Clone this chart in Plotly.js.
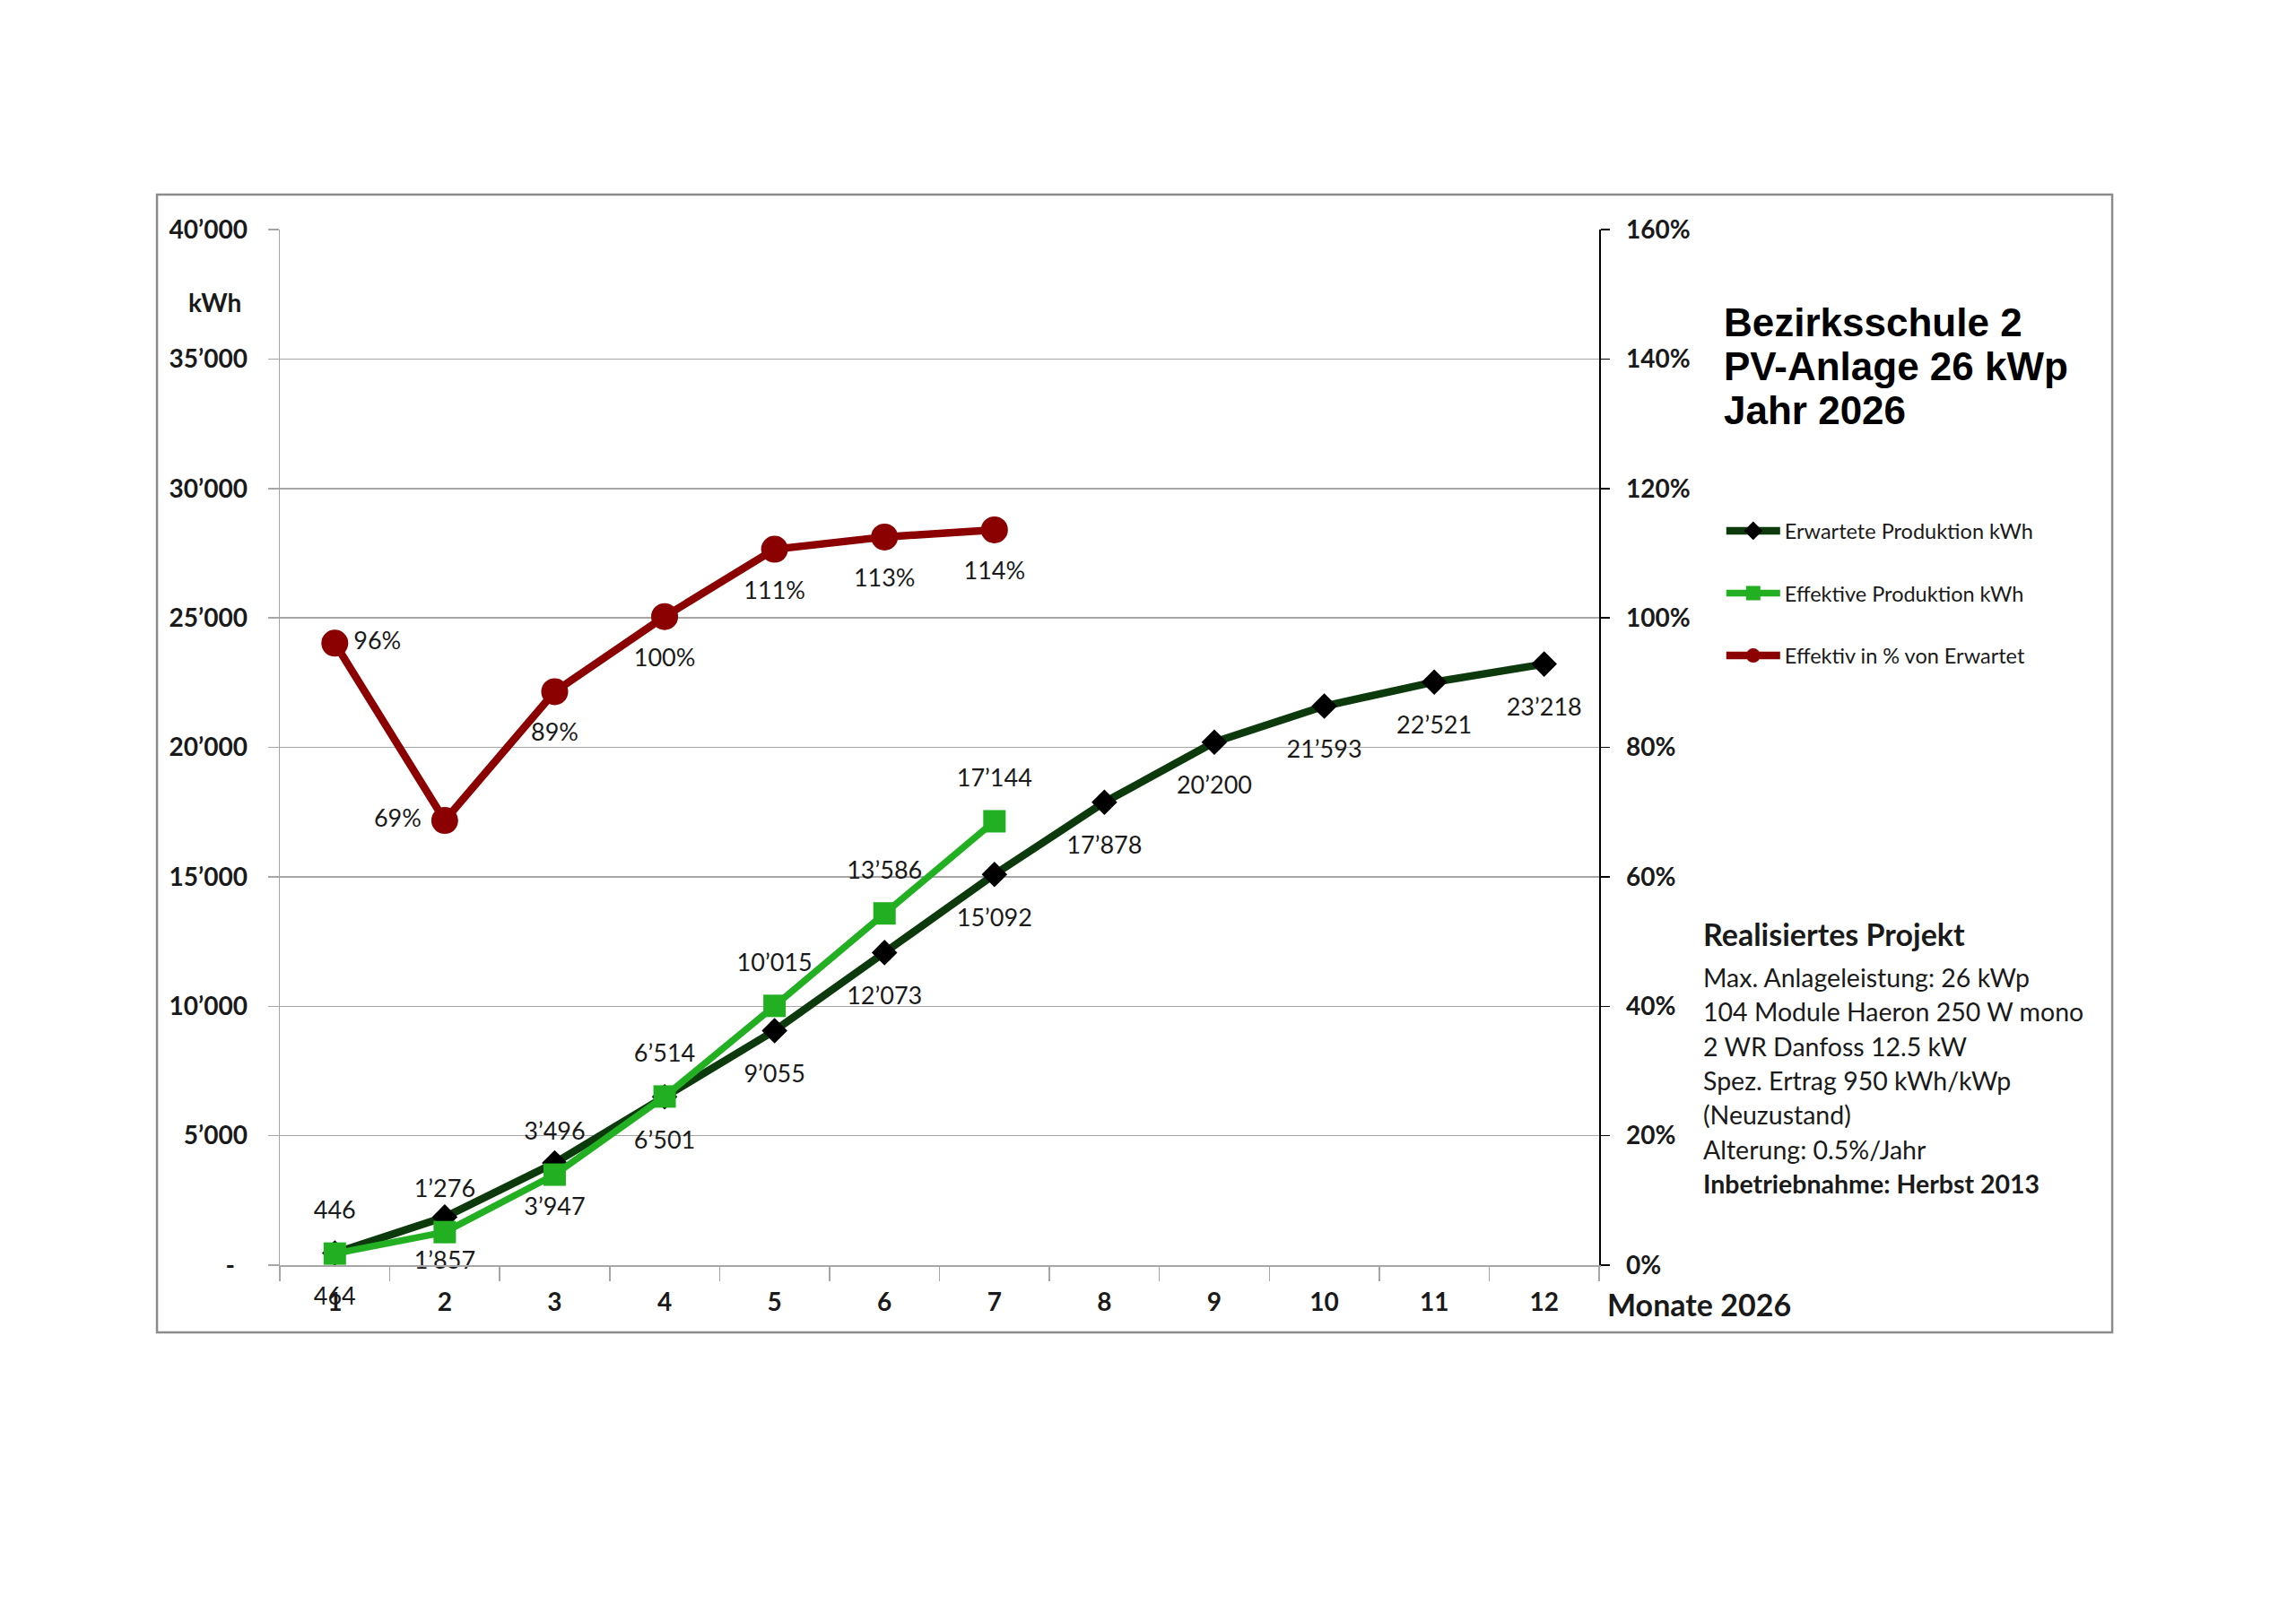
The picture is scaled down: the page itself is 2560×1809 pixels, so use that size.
<!DOCTYPE html>
<html>
<head>
<meta charset="utf-8">
<script src="https://cdn.plot.ly/plotly-3.0.1.min.js"></script>
<style>
  html, body { margin: 0; padding: 0; background: #fff; }
  #chart { width: 2560px; height: 1809px; }
</style>
</head>
<body>
<div id="chart"></div>
<script>
// ---- Data ----
const months        = ['1', '2', '3', '4', '5', '6', '7', '8', '9', '10', '11', '12'];
const expectedKwh   = [464, 1857, 3947, 6501, 9055, 12073, 15092, 17878, 20200, 21593, 22521, 23218];
const effectiveKwh  = [446, 1276, 3496, 6514, 10015, 13586, 17144];
const effectivePct  = [96.1, 68.7, 88.6, 100.2, 110.6, 112.5, 113.6];

const kwhTicks      = [0, 5000, 10000, 15000, 20000, 25000, 30000, 35000, 40000];
const kwhTickLabels = ['-\u2002', '5’000', '10’000', '15’000', '20’000', '25’000', '30’000', '35’000', '40’000'];

const titleLines = ['Bezirksschule 2', 'PV-Anlage 26 kWp', 'Jahr 2026'];
const infoHead   = 'Realisiertes Projekt';
const infoLines  = [
  'Max. Anlageleistung: 26 kWp',
  '104 Module Haeron 250 W mono',
  '2 WR Danfoss 12.5 kW',
  'Spez. Ertrag 950 kWh/kWp',
  '(Neuzustand)',
  'Alterung: 0.5%/Jahr',
  '<b>Inbetriebnahme: Herbst 2013</b>',
];

// ---- Colours / fonts ----
const C = {
  dark:  '#0c3a0c',
  green: '#22b022',
  red:   '#8b0000',
  grid:  '#a6a6a6',
  text:  '#1a1a1a',
};
const FONT  = 'Lato, "Open Sans", sans-serif';
const TFONT = '"Liberation Sans", Arial, sans-serif';

const fmt = (v) => String(Math.round(v)).replace(/\B(?=(\d{3})+(?!\d))/g, '’');

const effMonths = months.slice(0, effectiveKwh.length);

// ---- Traces ----
const traces = [
  {
    name: 'Erwartete Produktion kWh',
    legendgroup: 'a',
    x: months, y: expectedKwh,
    mode: 'lines+markers',
    line: { color: C.dark, width: 8.5 },
    marker: { symbol: 'diamond', size: 22, color: '#000' },
    hoverinfo: 'skip',
  },
  {
    name: 'Effektive Produktion kWh',
    legendgroup: 'b',
    x: effMonths, y: effectiveKwh,
    mode: 'lines+markers',
    line: { color: C.green, width: 7.5 },
    marker: { symbol: 'square', size: 25, color: C.green },
    hoverinfo: 'skip',
  },
  {
    name: 'Effektiv in % von Erwartet',
    legendgroup: 'c',
    x: effMonths, y: effectivePct,
    yaxis: 'y2',
    mode: 'lines+markers',
    line: { color: C.red, width: 8.5 },
    marker: { symbol: 'circle', size: 30, color: C.red },
    hoverinfo: 'skip',
  },
  // data labels (invisible spacer markers push the text off the points)
  {
    x: months, y: expectedKwh,
    mode: 'markers+text',
    text: expectedKwh.map(fmt),
    textposition: 'bottom center',
    textfont: { family: FONT, size: 27, color: C.text },
    marker: { size: 58, opacity: 0 },
    cliponaxis: false,
    showlegend: false, hoverinfo: 'skip',
  },
  {
    x: effMonths, y: effectiveKwh,
    mode: 'markers+text',
    text: effectiveKwh.map(fmt),
    textposition: 'top center',
    textfont: { family: FONT, size: 27, color: C.text },
    marker: { size: 50, opacity: 0 },
    cliponaxis: false,
    showlegend: false, hoverinfo: 'skip',
  },
  {
    x: effMonths, y: effectivePct,
    yaxis: 'y2',
    mode: 'markers+text',
    text: effectivePct.map(v => Math.round(v) + '%'),
    textposition: ['middle right', 'middle left', 'bottom center', 'bottom center', 'bottom center', 'bottom center', 'bottom center'],
    textfont: { family: FONT, size: 27, color: C.text },
    marker: { size: [32, 40, 54, 54, 54, 54, 54], opacity: 0 },
    cliponaxis: false,
    showlegend: false, hoverinfo: 'skip',
  },
];

// ---- Annotations ----
const annotations = [
  {
    text: '<b>kWh</b>', xref: 'paper', yref: 'paper', x: -0.049, y: 0.930,
    xanchor: 'center', yanchor: 'middle',
    showarrow: false, font: { family: FONT, size: 28, color: C.text },
  },
  {
    text: '<b>Monate 2026</b>', xref: 'paper', yref: 'paper', x: 1.0048, y: -0.038,
    xanchor: 'left', yanchor: 'middle', showarrow: false,
    font: { family: FONT, size: 34, color: C.text },
  },
  {
    text: '<b>' + infoHead + '</b>', xref: 'paper', yref: 'paper', x: 1.0775, y: 0.3195,
    xanchor: 'left', yanchor: 'middle', showarrow: false,
    font: { family: FONT, size: 34, color: C.text },
  },
];
titleLines.forEach((t, i) => annotations.push({
  text: '<b>' + t + '</b>', xref: 'paper', yref: 'paper',
  x: 1.0931, y: 0.9108 - i * 0.0428, xanchor: 'left', yanchor: 'middle', showarrow: false,
  font: { family: TFONT, size: 44, color: '#000' },
}));
infoLines.forEach((t, i) => annotations.push({
  text: t, xref: 'paper', yref: 'paper',
  x: 1.0775, y: 0.2779 - i * 0.0332, xanchor: 'left', yanchor: 'middle', showarrow: false,
  font: { family: FONT, size: 28.5, color: C.text },
}));

const layout = {
  width: 2560,
  height: 1809,
  margin: { l: 312, r: 777, t: 256, b: 398 },
  paper_bgcolor: '#fff',
  plot_bgcolor: '#fff',
  showlegend: true,
  legend: {
    x: 1.093, y: 0.728, xanchor: 'left', yanchor: 'top',
    font: { family: FONT, size: 23.5, color: C.text },
    tracegroupgap: 36,
    itemwidth: 60,
    bgcolor: 'rgba(0,0,0,0)',
  },
  xaxis: {
    type: 'category',
    range: [-0.5, 11.5],
    tickson: 'boundaries',
    ticks: 'outside', ticklen: 16, tickcolor: C.grid, tickwidth: 1.5,
    ticklabelstandoff: 16,
    showline: true, linecolor: C.grid, linewidth: 1.5,
    showgrid: false,
    tickfont: { family: FONT, size: 28, color: C.text, weight: 'bold' },
  },
  yaxis: {
    range: [0, 40000],
    tickvals: kwhTicks, ticktext: kwhTickLabels,
    ticks: 'outside', ticklen: 12, tickcolor: C.grid, tickwidth: 1.5,
    ticklabelstandoff: 17,
    showline: true, linecolor: C.grid, linewidth: 1.5,
    gridcolor: C.grid, gridwidth: 1.5,
    zeroline: false,
    tickfont: { family: FONT, size: 28, color: C.text, weight: 'bold' },
  },
  yaxis2: {
    overlaying: 'y', side: 'right',
    range: [0, 160], dtick: 20, ticksuffix: '%',
    ticks: 'outside', ticklen: 10, tickcolor: '#000', tickwidth: 1.5,
    ticklabelstandoff: 13,
    showline: true, linecolor: '#000', linewidth: 1.5,
    showgrid: false, zeroline: false,
    tickfont: { family: FONT, size: 28, color: C.text, weight: 'bold' },
  },
  shapes: [
    {
      type: 'rect', xref: 'paper', yref: 'paper',
      x0: -0.0931, x1: 1.3889, y0: -0.0649, y1: 1.0338,
      line: { color: '#8c8c8c', width: 2.5 },
      layer: 'below',
    },
  ],
  annotations: annotations,
};

Plotly.newPlot('chart', traces, layout, { staticPlot: true, displayModeBar: false });
</script>
</body>
</html>
